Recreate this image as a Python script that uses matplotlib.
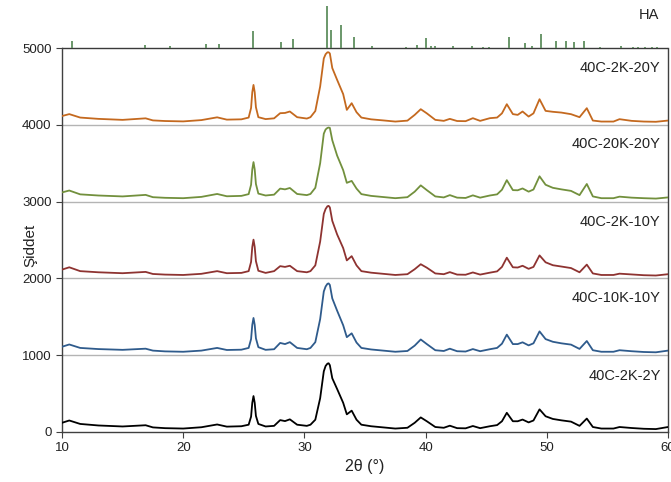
#!/usr/bin/env python3

import numpy as np
import matplotlib
matplotlib.use("Agg")
import matplotlib.pyplot as plt

plt.rcParams["font.family"] = ["Liberation Sans", "DejaVu Sans"]

# 2theta positions shared by every pattern
two_theta = [10.0, 10.6, 11.5, 13.0, 15.0, 16.9, 17.5, 18.5, 20.0, 21.5,
             22.8, 23.6, 24.8, 25.4, 25.6, 25.7, 25.8, 25.9, 26.0, 26.2,
             26.8, 27.5, 28.0, 28.4, 28.8, 29.4, 30.2, 30.5, 30.9, 31.3,
             31.6, 31.75, 31.9, 32.0, 32.1, 32.3, 32.7, 33.2, 33.5, 33.9,
             34.3, 34.7, 35.5, 36.5, 37.5, 38.5, 39.1, 39.6, 40.1, 40.8,
             41.5, 42.0, 42.6, 43.3, 43.9, 44.5, 45.3, 45.9, 46.3, 46.7,
             47.2, 47.6, 48.0, 48.5, 48.9, 49.4, 49.9, 50.5, 51.2, 52.0,
             52.7, 53.3, 53.8, 54.5, 55.5, 56.0, 57.0, 58.0, 59.0, 60.0]

y_2k_2y = [120, 150, 105, 85, 72, 88, 60, 50, 45, 62,
           98, 70, 75, 95, 200, 380, 468, 380, 210, 105,
           72, 80, 155, 142, 165, 95, 80, 95, 160, 440,
           790, 860, 890, 895, 870, 700, 560, 380, 230, 278,
           160, 95, 75, 60, 45, 55, 120, 190, 140, 65,
           55, 82, 50, 48, 78, 50, 75, 90, 140, 250,
           140, 140, 162, 125, 150, 295, 205, 170, 152, 135,
           80, 175, 65, 45, 45, 65, 52, 42, 38, 65]

y_10k_10y = [110, 140, 95, 80, 70, 85, 60, 50, 45, 60,
             95, 68, 72, 95, 210, 395, 485, 395, 220, 105,
             70, 78, 160, 145, 170, 95, 78, 95, 170, 470,
             830, 895, 930, 935, 915, 740, 580, 390, 235, 285,
             165, 95, 75, 60, 45, 55, 125, 205, 145, 65,
             55, 85, 52, 48, 80, 52, 78, 95, 150, 268,
             145, 145, 168, 128, 155, 310, 210, 175, 155, 138,
             82, 185, 65, 45, 45, 65, 52, 42, 38, 60]

y_2k_10y = [115, 145, 95, 80, 68, 85, 58, 50, 45, 60,
            95, 68, 72, 95, 215, 410, 505, 410, 225, 100,
            72, 95, 160, 150, 165, 95, 80, 95, 170, 480,
            840, 905, 940, 945, 925, 750, 573, 395, 235, 290,
            170, 95, 75, 60, 45, 55, 120, 185, 140, 65,
            55, 82, 50, 48, 78, 50, 75, 92, 150, 270,
            145, 142, 165, 125, 150, 300, 210, 172, 155, 135,
            80, 180, 65, 45, 45, 62, 52, 42, 38, 55]

y_20k_20y = [120, 145, 95, 80, 68, 88, 58, 50, 45, 62,
             100, 70, 75, 98, 220, 420, 515, 420, 230, 105,
             80, 91, 170, 160, 178, 100, 85, 100, 180, 500,
             885, 940, 960, 965, 960, 800, 600, 410, 245, 270,
             170, 98, 75, 60, 45, 58, 130, 212, 150, 68,
             55, 85, 52, 48, 82, 52, 80, 95, 155, 280,
             150, 148, 172, 130, 158, 330, 220, 180, 160, 140,
             85, 230, 68, 45, 45, 65, 52, 45, 40, 55]

y_2k_20y = [115, 140, 95, 78, 65, 85, 58, 50, 45, 62,
            98, 68, 72, 95, 220, 425, 520, 425, 230, 100,
            75, 85, 152, 155, 174, 100, 82, 100, 180, 500,
            865, 920, 945, 945, 930, 740, 586, 400, 195, 282,
            165, 95, 72, 58, 43, 55, 130, 204, 150, 65,
            52, 78, 50, 48, 87, 52, 87, 95, 150, 269,
            140, 130, 174, 108, 150, 334, 182, 170, 160, 139,
            100, 217, 56, 43, 43, 74, 52, 43, 40, 56]

sample_names = ["40C-2K-2Y", "40C-10K-10Y", "40C-2K-10Y", "40C-20K-20Y", "40C-2K-20Y"]
offsets = [0, 1000, 2000, 3000, 4000]
colors = ["#000000", "#2f5b8c", "#8e3331", "#72903d", "#c4691f"]
label_y = [735, 1745, 2740, 3745, 4740]

# HA reference card, sticks drawn above 5000
ha_pos = [10.85, 16.87, 18.9, 21.88, 22.95, 25.8, 28.05, 29.03, 31.85, 32.2,
          33.05, 34.06, 35.55, 38.36, 39.26, 40.0, 40.45, 40.8, 42.3, 43.86,
          44.77, 45.2, 46.9, 48.2, 48.8, 49.5, 50.76, 51.56, 52.27, 53.07,
          54.39, 56.12, 57.1, 57.5, 58.1, 58.7, 59.1]
ha_int = [87, 43, 30, 48, 52, 220, 73, 117, 551, 238,
          299, 143, 30, 15, 43, 125, 23, 23, 25, 30,
          20, 20, 143, 65, 25, 186, 87, 87, 78, 87,
          17, 30, 15, 15, 15, 15, 15]
ha_base = 5000


def main():
    fig = plt.figure(figsize=(6.71, 4.82), dpi=100)
    ax = fig.add_axes([62 / 671, 1 - 432 / 482, 606 / 671, 430 / 482])

    x = np.array(two_theta)
    patterns = [y_2k_2y, y_10k_10y, y_2k_10y, y_20k_20y, y_2k_20y]

    for y in [1000, 2000, 3000, 4000]:
        ax.axhline(y, color="#b4b4b4", lw=1.0, zorder=1)
    ax.axhline(ha_base, color="#3a3a3a", lw=1.0, zorder=1)

    for ys, off, c, name, ly in zip(patterns, offsets, colors, sample_names, label_y):
        ax.plot(x, np.array(ys) + off, color=c, lw=1.3, zorder=3)
        ax.text(59.4, ly, name, ha="right", va="center", fontsize=10.5, color="#222222")

    ax.vlines(ha_pos, ha_base, ha_base + np.array(ha_int), color="#5f8f5f", lw=1.3, zorder=2)
    ax.text(59.3, 5430, "HA", ha="right", va="center", fontsize=10.5, color="#222222")

    ax.set_xlim(10, 60)
    ax.set_ylim(0, 5600)
    ax.set_xticks([10, 20, 30, 40, 50, 60])
    ax.set_yticks([0, 1000, 2000, 3000, 4000, 5000])
    ax.tick_params(labelsize=9.5, length=4, direction="out", color="#404040", labelcolor="#222222")

    ax.spines["top"].set_visible(False)
    ax.spines["left"].set_bounds(0, 5000)
    ax.spines["right"].set_bounds(0, 5000)
    for s in ["left", "right", "bottom"]:
        ax.spines[s].set_color("#404040")
        ax.spines[s].set_linewidth(1.0)

    fig.text(30 / 671, 1 - 245 / 482, "Şiddet", rotation=90, ha="center", va="center",
             fontsize=11, color="#222222")
    fig.text(365 / 671, 1 - 467 / 482, "2θ (°)", ha="center", va="center",
             fontsize=11.5, color="#222222")

    fig.savefig("out.png", dpi=100)


if __name__ == "__main__":
    main()
